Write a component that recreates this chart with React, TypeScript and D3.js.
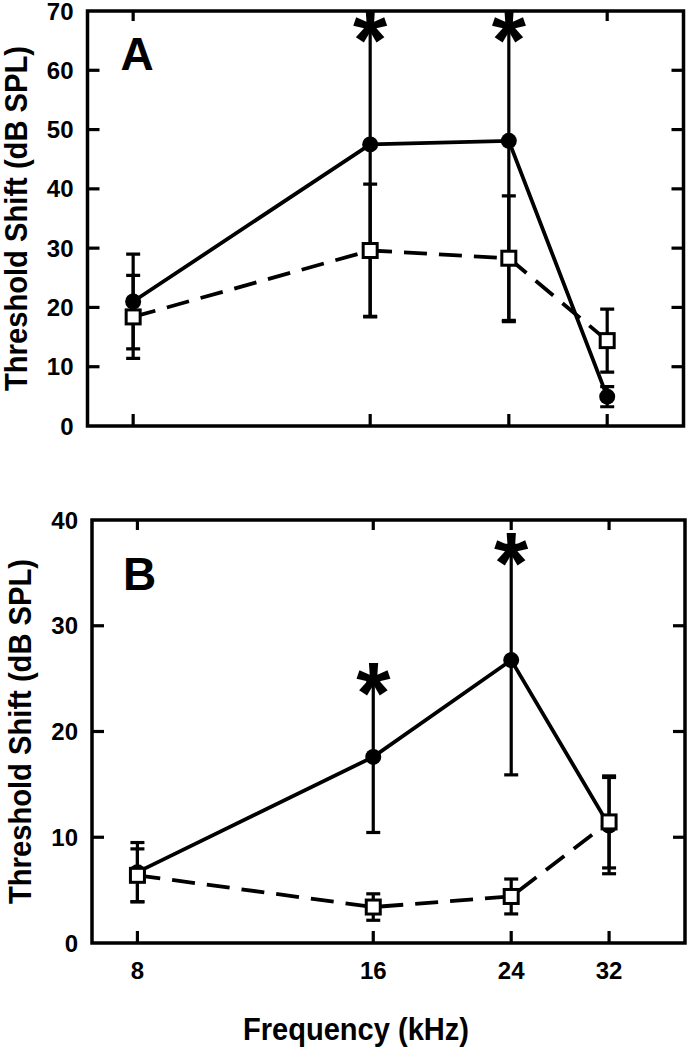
import React from "react";
import * as d3 from "d3";

// ---- data ----
const freqs = [8, 16, 24, 32];
const xTickLabels = ["8", "16", "24", "32"];

// Panel A
const aNoiseMean = [21, 47.5, 48.1, 4.95];
const aNoiseErr = [8, 29, 30.5, 1.7];
const aCtrlMean = [18.4, 29.6, 28.3, 14.4];
const aCtrlErr = [7, 11.2, 10.5, 5.3];
const aSig = [16, 24];
const aYTicks = [0, 10, 20, 30, 40, 50, 60, 70];

// Panel B
const bNoiseMean = [6.7, 17.6, 26.75, 11.1];
const bNoiseErr = [2.8, 7.15, 10.85, 4.55];
const bCtrlMean = [6.4, 3.4, 4.4, 11.45];
const bCtrlErr = [2.5, 1.25, 1.65, 4.35];
const bSig = [16, 24];
const bYTicks = [0, 10, 20, 30, 40];

const FONT = "'Liberation Sans', Arial, Helvetica, sans-serif";

type PanelCfg = {
  id: string;
  label: string;
  labelDx: number;
  labelDy: number;
  yTicks: number[];
  noiseMean: number[];
  noiseErr: number[];
  ctrlMean: number[];
  ctrlErr: number[];
  sig: number[];
  left: number;
  right: number;
  top: number;
  bottom: number;
  showX: boolean;
};

const panels: PanelCfg[] = [
  {
    id: "A", label: "A", labelDx: 33, labelDy: 59,
    yTicks: aYTicks, noiseMean: aNoiseMean, noiseErr: aNoiseErr,
    ctrlMean: aCtrlMean, ctrlErr: aCtrlErr, sig: aSig,
    left: 87.5, right: 683.5, top: 11, bottom: 426, showX: false,
  },
  {
    id: "B", label: "B", labelDx: 31, labelDy: 70,
    yTicks: bYTicks, noiseMean: bNoiseMean, noiseErr: bNoiseErr,
    ctrlMean: bCtrlMean, ctrlErr: bCtrlErr, sig: bSig,
    left: 92, right: 685, top: 520, bottom: 943, showX: true,
  },
];

function Panel({ p }: { p: PanelCfg }) {
  const yMax = d3.max(p.yTicks) as number;
  const x = d3.scaleLog().domain([7, 40]).range([p.left, p.right]);
  const y = d3.scaleLinear().domain([0, yMax]).range([p.bottom, p.top]);
  const line = d3
    .line<number>()
    .x((_, i) => x(freqs[i]))
    .y((d) => y(d));
  const clipId = "clip" + p.id;
  const tickLen = 12;
  const cap = 7;
  const innerTicks = p.yTicks.filter((t) => t > 0 && t < yMax);

  const errBars = (means: number[], errs: number[], key: string) =>
    means.map((m, i) => {
      const cx = x(freqs[i]);
      const y1 = y(m + errs[i]);
      const y0 = y(m - errs[i]);
      return (
        <g key={key + i}>
          <line x1={cx} x2={cx} y1={y1} y2={y0} />
          <line x1={cx - cap} x2={cx + cap} y1={y1} y2={y1} />
          <line x1={cx - cap} x2={cx + cap} y1={y0} y2={y0} />
        </g>
      );
    });

  return (
    <g>
      <defs>
        <clipPath id={clipId}>
          <rect x={p.left} y={p.top} width={p.right - p.left} height={p.bottom - p.top} />
        </clipPath>
      </defs>
      {/* frame */}
      <rect
        x={p.left}
        y={p.top}
        width={p.right - p.left}
        height={p.bottom - p.top}
        fill="none"
        stroke="#000"
        strokeWidth={3.5}
      />
      {/* inward ticks */}
      <g stroke="#000" strokeWidth={3.2}>
        {innerTicks.map((t) => (
          <g key={"yt" + t}>
            <line x1={p.left} x2={p.left + tickLen} y1={y(t)} y2={y(t)} />
            <line x1={p.right} x2={p.right - tickLen} y1={y(t)} y2={y(t)} />
          </g>
        ))}
        {freqs.map((f) => (
          <g key={"xt" + f}>
            <line x1={x(f)} x2={x(f)} y1={p.bottom} y2={p.bottom - tickLen} />
            <line x1={x(f)} x2={x(f)} y1={p.top} y2={p.top + 10} />
          </g>
        ))}
      </g>
      {/* y tick labels */}
      <g fontFamily={FONT} fontWeight="bold" fontSize={24} textAnchor="end">
        {p.yTicks.map((t) => (
          <text key={"yl" + t} x={p.left - 14} y={y(t)} dy="0.36em">
            {t}
          </text>
        ))}
      </g>
      {p.showX && (
        <g fontFamily={FONT} fontWeight="bold" fontSize={24} textAnchor="middle">
          {freqs.map((f, i) => (
            <text key={"xl" + f} x={x(f)} y={970} dy="0.36em">
              {xTickLabels[i]}
            </text>
          ))}
        </g>
      )}
      {/* y title */}
      <text
        transform={`translate(${p.left - 61},${(p.top + p.bottom) / 2}) rotate(-90)`}
        textAnchor="middle"
        fontFamily={FONT}
        fontWeight="bold"
        fontSize={32}
        textLength={345}
        lengthAdjust="spacingAndGlyphs"
      >
        Threshold Shift (dB SPL)
      </text>
      {/* panel label */}
      <text
        x={p.left + p.labelDx}
        y={p.top + p.labelDy}
        fontFamily={FONT}
        fontWeight="bold"
        fontSize={46}
      >
        {p.label}
      </text>
      <g clipPath={`url(#${clipId})`}>
        {/* lines */}
        <path
          d={line(p.ctrlMean) || ""}
          fill="none"
          stroke="#000"
          strokeWidth={3.8}
          strokeDasharray="23,12"
        />
        <path d={line(p.noiseMean) || ""} fill="none" stroke="#000" strokeWidth={3.8} />
        {/* error bars */}
        <g stroke="#000" strokeWidth={3.2}>
          {errBars(p.noiseMean, p.noiseErr, "ne")}
          {errBars(p.ctrlMean, p.ctrlErr, "ce")}
        </g>
        {/* markers */}
        {p.noiseMean.map((m, i) => (
          <circle key={"c" + i} cx={x(freqs[i])} cy={y(m)} r={8} fill="#000" />
        ))}
        {p.ctrlMean.map((m, i) => (
          <rect
            key={"s" + i}
            x={x(freqs[i]) - 7}
            y={y(m) - 7}
            width={14}
            height={14}
            fill="#fff"
            stroke="#000"
            strokeWidth={3}
          />
        ))}
      </g>
      {/* significance asterisks */}
      <g fontFamily={FONT} fontWeight="bold" fontSize={88} textAnchor="middle">
        {p.sig.map((f) => {
          const i = freqs.indexOf(f);
          const v = Math.min(p.noiseMean[i] + p.noiseErr[i], yMax - 3);
          return (
            <text key={"st" + f} x={x(f)} y={y(v)} dy="0.47em">
              *
            </text>
          );
        })}
      </g>
    </g>
  );
}

export default function App() {
  return (
    <svg
      width={687}
      height={1047}
      style={{ position: "absolute", left: 0, top: 0, background: "#fff" }}
    >
      <rect x={0} y={0} width={687} height={1047} fill="#fff" />
      {panels.map((p) => (
        <Panel key={p.id} p={p} />
      ))}
      <text
        x={356}
        y={1040}
        textAnchor="middle"
        fontFamily={FONT}
        fontWeight="bold"
        fontSize={32}
        textLength={226}
        lengthAdjust="spacingAndGlyphs"
      >
        Frequency (kHz)
      </text>
    </svg>
  );
}
